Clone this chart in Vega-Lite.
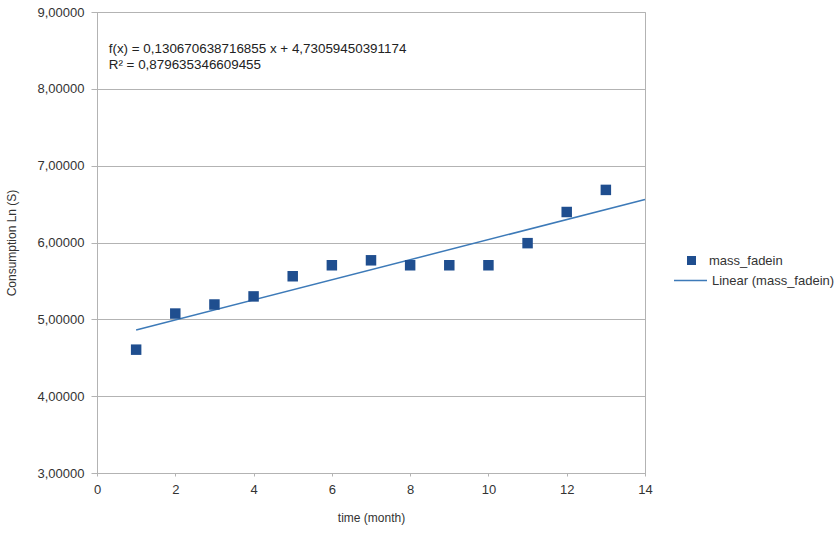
{
  "$schema": "https://vega.github.io/schema/vega-lite/v6.json",
  "width": 548,
  "height": 461,
  "autosize": {"type": "none"},
  "padding": {"left": 97, "top": 12, "right": 193, "bottom": 60},
  "background": "white",
  "config": {
    "font": "Liberation Sans",
    "view": {"stroke": "#b3b3b3", "strokeWidth": 1},
    "axis": {
      "labelFont": "Liberation Sans",
      "titleFont": "Liberation Sans",
      "labelColor": "#333333",
      "titleColor": "#333333",
      "labelFontSize": 13,
      "titleFontSize": 12,
      "titleFontWeight": "normal",
      "domainColor": "#b3b3b3",
      "tickColor": "#b3b3b3",
      "gridColor": "#b3b3b3",
      "gridOpacity": 1
    },
    "legend": {
      "labelFont": "Liberation Sans",
      "labelFontSize": 13,
      "labelColor": "#333333",
      "padding": 0
    }
  },
  "datasets": {
    "points": [
      {"time": 1, "value": 4.6052, "series": "mass_fadein"},
      {"time": 2, "value": 5.0752, "series": "mass_fadein"},
      {"time": 3, "value": 5.1930, "series": "mass_fadein"},
      {"time": 4, "value": 5.2983, "series": "mass_fadein"},
      {"time": 5, "value": 5.5607, "series": "mass_fadein"},
      {"time": 6, "value": 5.7038, "series": "mass_fadein"},
      {"time": 7, "value": 5.7683, "series": "mass_fadein"},
      {"time": 8, "value": 5.7038, "series": "mass_fadein"},
      {"time": 9, "value": 5.7038, "series": "mass_fadein"},
      {"time": 10, "value": 5.7038, "series": "mass_fadein"},
      {"time": 11, "value": 5.9915, "series": "mass_fadein"},
      {"time": 12, "value": 6.3969, "series": "mass_fadein"},
      {"time": 13, "value": 6.6846, "series": "mass_fadein"}
    ],
    "trend": [
      {"time": 1, "value": 4.8613, "series": "Linear (mass_fadein)"},
      {"time": 14, "value": 6.5600, "series": "Linear (mass_fadein)"}
    ],
    "note": [
      {"time": 0.3, "value": 8.52, "text": ["f(x) = 0,130670638716855 x + 4,73059450391174", "R² = 0,879635346609455"]}
    ]
  },
  "encoding": {
    "x": {
      "field": "time",
      "type": "quantitative",
      "scale": {"domain": [0, 14], "nice": false, "zero": false},
      "axis": {
        "title": "time (month)",
        "values": [0, 2, 4, 6, 8, 10, 12, 14],
        "grid": false,
        "tickSize": 3,
        "labelPadding": 7,
        "titlePadding": 16,
        "labelFlush": false
      }
    },
    "y": {
      "field": "value",
      "type": "quantitative",
      "scale": {"domain": [3, 9], "nice": false, "zero": false},
      "axis": {
        "title": "Consumption Ln (S)",
        "values": [3, 4, 5, 6, 7, 8, 9],
        "grid": true,
        "tickSize": 6,
        "labelPadding": 7,
        "titlePadding": 19,
        "labelExpr": "replace(format(datum.value, '.5f'), '.', ',')"
      }
    }
  },
  "layer": [
    {
      "data": {"name": "trend"},
      "mark": {"type": "line", "strokeWidth": 1.5},
      "encoding": {
        "stroke": {
          "field": "series",
          "type": "nominal",
          "scale": {"range": ["#3d7ab8"]},
          "legend": {
            "title": null,
            "orient": "none",
            "legendX": 576,
            "legendY": 251,
            "symbolType": "stroke",
            "symbolSize": 1089,
            "symbolStrokeWidth": 1.5,
            "labelOffset": 4
          }
        }
      }
    },
    {
      "data": {"name": "points"},
      "mark": {"type": "point", "shape": "square", "filled": true, "size": 110, "opacity": 1},
      "encoding": {
        "fill": {
          "field": "series",
          "type": "nominal",
          "scale": {"range": ["#1f4e8f"]},
          "legend": {
            "title": null,
            "orient": "none",
            "legendX": 588,
            "legendY": 242,
            "symbolType": "square",
            "symbolSize": 81,
            "symbolOpacity": 1,
            "labelOffset": 11
          }
        }
      }
    },
    {
      "data": {"name": "note"},
      "mark": {"type": "text", "align": "left", "baseline": "middle", "fontSize": 13.4, "lineHeight": 16, "color": "#222222", "font": "Liberation Sans"},
      "encoding": {
        "text": {"field": "text"}
      }
    }
  ]
}
